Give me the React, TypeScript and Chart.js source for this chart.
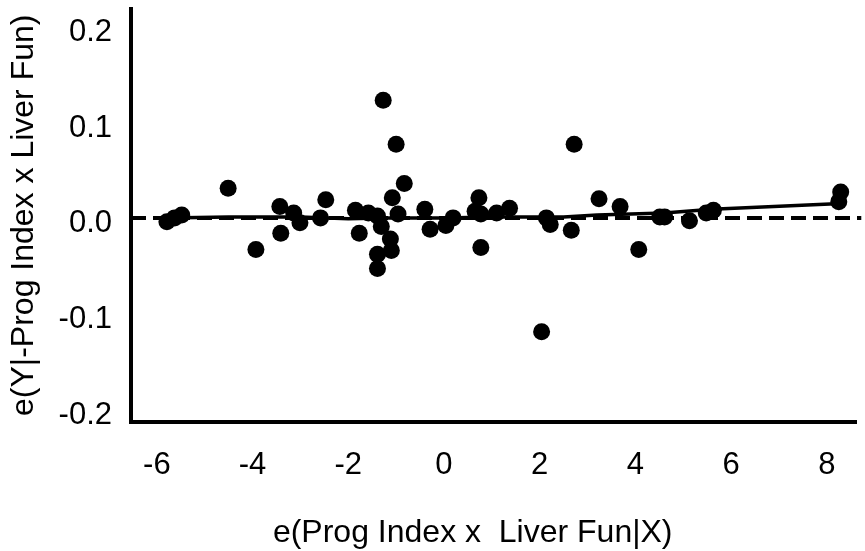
import React, { useEffect, useRef } from "react";
import { Chart, registerables } from "chart.js";

Chart.register(...registerables);

// Scatter points: e(Prog Index x Liver Fun|X) vs e(Y|-Prog Index x Liver Fun)
const pointX = [
  -5.79, -5.63, -5.48, -4.51, -3.93, -3.43, -3.41, -3.14, -3.01, -2.58,
  -2.47, -1.85, -1.77, -1.58, -1.39, -1.31, -1.27, -1.12, -1.10, -1.39,
  -1.39, -1.00, -0.83, -1.08, -0.96, -0.40, -0.29, 0.04, 0.19, 0.73,
  0.77, 0.65, 0.77, 1.10, 1.37, 2.14, 2.22, 2.66, 2.04, 2.72,
  3.24, 3.68, 4.07, 4.51, 4.61, 5.13, 5.48, 5.63, 8.29, 8.25,
];
const pointY = [
  -0.004, 0.0, 0.003, 0.031, -0.033, 0.012, -0.016, 0.005, -0.005, 0.0,
  0.019, 0.008, -0.016, 0.005, 0.002, -0.009, 0.123, -0.022, -0.034, -0.038,
  -0.053, 0.077, 0.036, 0.021, 0.004, 0.009, -0.012, -0.008, 0.0, 0.021,
  0.004, 0.007, -0.031, 0.005, 0.01, 0.0, -0.007, -0.013, -0.119, 0.077,
  0.02, 0.012, -0.033, 0.001, 0.001, -0.003, 0.005, 0.008, 0.027, 0.017,
];

// Smoothed fit line
const fitX = [-5.8, -4.5, -3.0, -2.0, -1.3, 0, 1.0, 2.0, 2.5, 3.2, 4.6, 5.6, 8.3];
const fitY = [0.0, 0.001, 0.001, -0.001, 0.0, 0.0, 0.001, 0.001, 0.001, 0.003, 0.005, 0.009, 0.015];

// Reference line at zero
const refX = [-6.54, 8.72];
const refY = [0, 0];

const xTicks = [-6, -4, -2, 0, 2, 4, 6, 8];
const xTickLabels = ["-6", "-4", "-2", "0", "2", "4", "6", "8"];
const yTicks = [0.2, 0.1, 0, -0.1, -0.2];
const yTickLabels = ["0.2", "0.1", "0.0", "-0.1", "-0.2"];

const xTitle = "e(Prog Index x  Liver Fun|X)";
const yTitle = "e(Y|-Prog Index x Liver Fun)";

const FONT = "'Liberation Sans', Arial, sans-serif";

export default function App() {
  const ref = useRef<HTMLCanvasElement | null>(null);

  useEffect(() => {
    if (!ref.current) return;
    const xTitlePlugin = {
      id: "xTitlePlugin",
      afterDraw(chart: any) {
        const { ctx, chartArea } = chart;
        ctx.save();
        ctx.fillStyle = "#000";
        ctx.font = `32px ${FONT}`;
        ctx.textAlign = "center";
        ctx.textBaseline = "middle";
        ctx.fillText(xTitle, chartArea.left + chartArea.width * 0.471, chartArea.bottom + 111);
        ctx.restore();
      },
    };

    const chart = new Chart(ref.current, {
      type: "scatter",
      data: {
        datasets: [
          {
            type: "line",
            data: refX.map((x, i) => ({ x, y: refY[i] })),
            borderColor: "#000",
            borderWidth: 4,
            borderDash: [15, 7],
            pointRadius: 0,
            fill: false,
            clip: false,
            order: 3,
          } as any,
          {
            type: "line",
            data: fitX.map((x, i) => ({ x, y: fitY[i] })),
            borderColor: "#000",
            borderWidth: 3.5,
            pointRadius: 0,
            fill: false,
            tension: 0,
            order: 2,
          } as any,
          {
            type: "scatter",
            data: pointX.map((x, i) => ({ x, y: pointY[i] })),
            backgroundColor: "#000",
            borderWidth: 0,
            pointRadius: 8.5,
            order: 1,
          } as any,
        ],
      },
      options: {
        animation: false,
        responsive: false,
        maintainAspectRatio: false,
        layout: { padding: { top: 7, right: 4, left: 0, bottom: 0 } },
        plugins: { legend: { display: false }, tooltip: { enabled: false } },
        scales: {
          x: {
            type: "linear",
            min: -6.54,
            max: 8.62,
            afterFit: (s: any) => {
              s.height = 129;
              s.paddingLeft = 0;
              s.paddingRight = 0;
            },
            afterBuildTicks: (s: any) => {
              s.ticks = xTicks.map((v) => ({ value: v }));
            },
            grid: { display: false, drawTicks: false },
            border: { display: true, color: "#000", width: 4 },
            ticks: {
              color: "#000",
              font: { family: FONT, size: 31 },
              padding: 25,
              maxRotation: 0,
              autoSkip: false,
              callback: (v: any) => {
                const i = xTicks.indexOf(Number(v));
                return i >= 0 ? xTickLabels[i] : "";
              },
            },
            title: { display: false },
          },
          y: {
            type: "linear",
            min: -0.2135,
            max: 0.219,
            afterFit: (s: any) => {
              s.width = 131;
              s.paddingTop = 0;
              s.paddingBottom = 0;
            },
            afterBuildTicks: (s: any) => {
              s.ticks = yTicks.map((v) => ({ value: v }));
            },
            grid: { display: false, drawTicks: false },
            border: { display: true, color: "#000", width: 4 },
            ticks: {
              color: "#000",
              font: { family: FONT, size: 31 },
              padding: 19,
              labelOffset: 6,
              autoSkip: false,
              callback: (v: any) => {
                const n = Number(v);
                const i = yTicks.findIndex((t) => Math.abs(t - n) < 1e-9);
                return i >= 0 ? yTickLabels[i] : "";
              },
            },
            title: {
              display: true,
              text: yTitle,
              color: "#000",
              font: { family: FONT, size: 32 },
              padding: { top: 5, bottom: 0 },
            },
          },
        },
      },
      plugins: [xTitlePlugin],
    } as any);

    return () => chart.destroy();
  }, []);

  return (
    <div style={{ position: "fixed", left: 0, top: 0, width: 865, height: 551, background: "#fff" }}>
      <canvas ref={ref} width={865} height={551} style={{ display: "block" }} />
    </div>
  );
}
